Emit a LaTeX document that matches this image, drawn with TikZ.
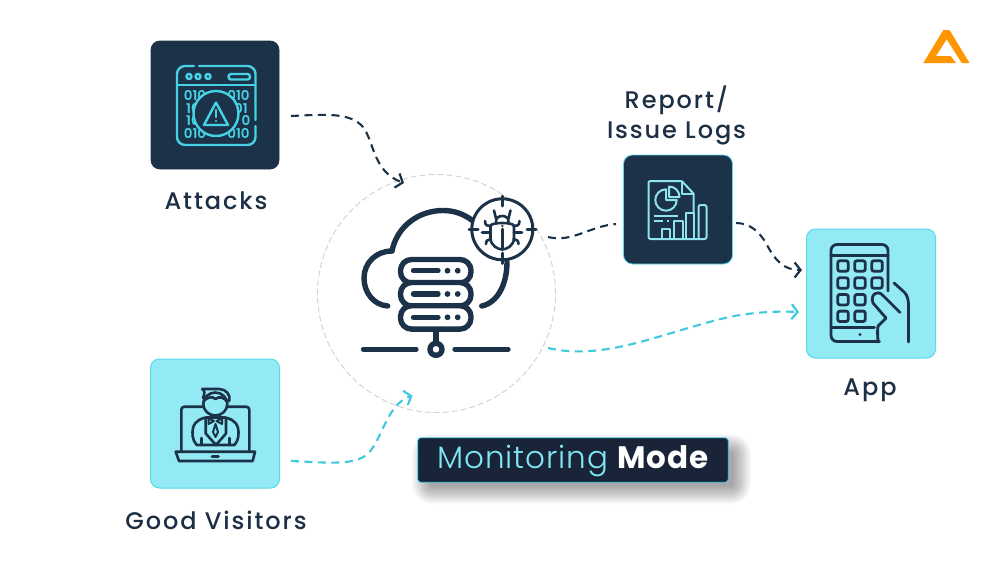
\documentclass[tikz,border=0pt]{standalone}
\usepackage{fontspec}
\usetikzlibrary{arrows.meta}
\setmainfont{Poppins}
\newfontfamily\labelfont[LetterSpace=8]{Poppins Medium}
\newfontfamily\lightfont[LetterSpace=3]{Poppins Light}
\newfontfamily\boldfont[LetterSpace=3]{Poppins Bold}
\newfontfamily\digitfont{Poppins SemiBold}
\definecolor{navy}{HTML}{1C3249}
\definecolor{lightcy}{HTML}{93E9F4}
\definecolor{cardedge}{HTML}{55DBEA}
\definecolor{wirecy}{HTML}{40C8DC}
\definecolor{iconcy}{HTML}{45D2E4}
\definecolor{reportcy}{HTML}{8FE3EE}
\definecolor{labelbg}{HTML}{1A2438}
\definecolor{labeltxt}{HTML}{7FE8F4}
\definecolor{logoc}{HTML}{FF9500}
\definecolor{txtc}{HTML}{1C2F45}
\tikzset{
  x=1pt,y=-1pt,
  cardbox/.style={rounded corners=9pt,inner sep=0pt,outer sep=0pt},
  darkcard/.style={cardbox,fill=navy,draw=navy,line width=.8pt},
  lightcard/.style={cardbox,fill=lightcy,draw=cardedge,line width=1pt},
  captxt/.style={font=\labelfont\fontsize{24}{30}\selectfont,text=txtc,inner sep=0pt,align=center},
  wire/.style={line width=2.1pt,dash pattern=on 8pt off 5.5pt,
    -{Straight Barb[length=6pt,width=15pt,line width=2.2pt]}},
  darkwire/.style={wire,draw=navy},
  cywire/.style={wire,draw=wirecy},
  iconA/.style={draw=iconcy,line width=2.4pt,line cap=round,line join=round},
  iconB/.style={draw=navy,line width=5.4pt,line cap=round,line join=round},
  iconC/.style={draw=navy,line width=2.8pt,line cap=round,line join=round},
  iconD/.style={draw=reportcy,line width=2pt,line join=round},
  iconE/.style={draw=navy,line width=2.6pt,line cap=round,line join=round},
  digits/.style={font=\digitfont\fontsize{13.5}{14}\selectfont,text=iconcy,inner sep=0pt,text height=9.5pt,text depth=0pt},
}
\begin{document}
\begin{tikzpicture}
\useasboundingbox (0,0) rectangle (1000,570);
\fill[white] (0,0) rectangle (1000,570);

% hub ring
\node[circle,draw=black!18,line width=.9pt,dash pattern=on 6pt off 3pt,minimum size=238pt,inner sep=0pt] (hub) at (436.5,293.5) {};

% cards
\node[darkcard,minimum width=128pt,minimum height=128pt] (attacks) at (215,105) {};
\node[lightcard,minimum width=129pt,minimum height=129pt] (good) at (215,423.5) {};
\node[darkcard,draw=cardedge,minimum width=109pt,minimum height=109pt] (report) at (678,209.5) {};
\node[lightcard,minimum width=129pt,minimum height=129pt] (app) at (871,293.5) {};

% captions
\node[captxt] (capa) at (216,201) {Attacks};
\node[captxt] (capg) at (216,520) {Good Visitors};
\node[captxt] (capr) at (676.5,115) {Report/\\Issue Logs};
\node[captxt] (capp) at (870,390) {App};

% connector ends
\coordinate (a1) at (291,116);
\coordinate (a2) at (404,183);
\coordinate (g1) at (291,461);
\coordinate (g2) at (412.5,395.5);
\coordinate (h1) at (548,237);
\coordinate (h2) at (548,348);
\coordinate (h3) at (616,224);
\coordinate (r1) at (736,223);
\coordinate (r2) at (802,270);
\coordinate (p2) at (799,312);

\draw[darkwire] (a1) .. controls (325,114.5) and (350,112) .. (363,127) .. controls (374,141) and (373,172) .. (a2);
\draw[cywire] (g1) .. controls (320,462) and (350,466) .. (365,456) .. controls (382,444) and (385,405) .. (g2);
\draw[cywire] (h2) .. controls (600,360) and (650,338) .. (713,321) .. controls (745,312) and (775,311) .. (p2);
\draw[darkwire,-] (h1) .. controls (572,243) and (590,226) .. (h3);
\draw[darkwire] (r1) .. controls (750,223) and (760,232) .. (767,245) .. controls (776,262) and (785,270) .. (r2);

% ---- Attacks icon
\draw[iconA,rounded corners=8pt] (199,66) -- (255.5,66) -- (255.5,120);
\draw[iconA,rounded corners=8pt] (255.5,126) -- (255.5,145) -- (177,145) -- (177,66) -- (194,66);
\draw[iconA] (177,85) -- (255.5,85);
\foreach \cx in {189,198,208}{\draw[iconA] (\cx,76.5) circle[radius=2.6];}
\draw[iconA,rounded corners=2.5pt] (228.5,74) rectangle (250,79.5);
\node[digits] (da1) at (195,96) {010};
\node[digits] (da2) at (238.5,96) {010};
\node[digits] (db1) at (193,108.5) {10};
\node[digits] (db2) at (241,108.5) {01};
\node[digits] (dc1) at (193,121) {10};
\node[digits] (dc2) at (246,121) {0};
\node[digits] (dd1) at (195,133.5) {010};
\node[digits] (dd2) at (238.5,133.5) {010};
\draw[iconA,fill=navy] (216,113.5) circle[radius=22.5];
\draw[iconA] (216,102.5) -- (228,125) -- (204,125) -- cycle;
\draw[iconA] (216,110) -- (216,117);
\fill[iconcy] (216,121) circle[radius=1.2];

% ---- Server / cloud icon
\draw[iconB] (387.7,306) .. controls (374,305) and (364,293) .. (364,278) .. controls (364,263) and (376,251) .. (392,251);
\draw[iconB] (392,251) .. controls (397,226) and (419,210.5) .. (443,210.5) .. controls (454,210.5) and (464,214) .. (473,221);
\draw[iconB] (507,262) .. controls (507,285) and (497,303) .. (481.7,306);
\foreach \y in {259.5,282.5,305.7}{
  \draw[iconB,fill=white,rounded corners=11pt] (400.5,\y) rectangle (471,\y+23.4);
}
\foreach \y in {270.7,294,317.3}{
  \draw[iconB] (413.5,\y) -- (438,\y);
  \fill[navy] (447.5,\y) circle[radius=2.9];
  \fill[navy] (457.7,\y) circle[radius=2.9];
}
\draw[iconB,line cap=butt] (436,329) -- (436,342);
\draw[iconB] (436,349.3) circle[radius=6];
\draw[iconB] (363.5,349.3) -- (416,349.3);
\draw[iconB] (455,349.3) -- (508,349.3);

% ---- Bug target
\draw[navy,line width=3pt,fill=white] (502.3,229.3) circle[radius=30.5];
\draw[iconE,line width=3pt] (502.3,196) -- (502.3,206);
\draw[iconE,line width=3pt] (502.3,253) -- (502.3,263.5);
\draw[iconE,line width=3pt] (469,229.3) -- (478,229.3);
\draw[iconE,line width=3pt] (527,229.3) -- (536,229.3);
\draw[iconE] (490.5,226) .. controls (490.5,222) and (514,222) .. (514,226) -- (514,238) .. controls (514,246) and (506,249.5) .. (502.3,249.5) .. controls (498.5,249.5) and (490.5,246) .. (490.5,238) -- cycle;
\draw[iconE] (496,218.5) -- (494,210.5);
\draw[iconE] (508.5,218.5) -- (510.5,210.5);
\draw[iconE] (496,222) .. controls (495,214) and (509.5,214) .. (508.5,222);
\draw[iconE] (502.3,229) -- (502.3,249);
\fill[navy] (502.3,226) circle[radius=1.2];
\draw[iconE] (482,232.5) -- (490,232.5);
\draw[iconE] (514,232.5) -- (522,232.5);
\draw[iconE] (485,221) .. controls (485,226) and (488,226) .. (491,226);
\draw[iconE] (519.5,221) .. controls (519.5,226) and (516.5,226) .. (513.5,226);
\draw[iconE] (486,244) .. controls (486,240) and (488,240) .. (491,239);
\draw[iconE] (518.5,244) .. controls (518.5,240) and (516.5,240) .. (513.5,239);

% ---- Report icon
\draw[iconD,rounded corners=2pt] (681.7,181) -- (648.5,181) -- (648.5,239) -- (706.5,239) -- (706.5,205) -- (698.5,205) -- (698.5,239);
\draw[iconD] (681.7,181) -- (693.5,193.5) -- (693.5,213);
\draw[iconD] (681.7,181) -- (681.7,193.5) -- (693.5,193.5);
\draw[iconD] (661.5,229) rectangle (670,239);
\draw[iconD] (674,221) rectangle (682.7,239);
\draw[iconD] (686,213) rectangle (694,239);
\draw[iconD] (666,189.3) arc[start angle=90,end angle=360,radius=10.7pt] -- (666,200) -- cycle;
\draw[iconD] (669,186.5) arc[start angle=90,end angle=0,radius=10.5pt] -- (669,197) -- cycle;
\draw[iconD] (653.5,215.5) -- (678,215.5);
\draw[iconD] (653.5,221) -- (663,221);
\draw[iconD] (667,221) -- (669,221);

% ---- Phone icon
\draw[iconC,rounded corners=6pt] (879.5,341.5) -- (831,341.5) -- (831,244.5) -- (888,244.5) -- (888,291);
\draw[iconC] (831,255.5) -- (888,255.5);
\draw[iconC] (831,327.7) -- (874.5,327.7);
\foreach \cx/\cy in {843/266,860/266,877/266,843/283,860/283,877/283,843/299.7,860/299.7,843/316.3,860/316.3}{
  \draw[iconC,rounded corners=2pt] (\cx-5.2,\cy-5.2) rectangle (\cx+5.2,\cy+5.2);
}
\fill[navy] (860,334.5) circle[radius=1.6];
\draw[iconC,fill=lightcy] (900,312.5) -- (883,295.5) .. controls (877,289) and (870,295) .. (873,303) -- (886,318) -- (878,326) .. controls (877,332) and (878,338) .. (878,342);
\draw[iconC] (894,283) -- (903,291) .. controls (909,296) and (908.5,303) .. (908.5,308) -- (908.5,342);

% ---- Laptop person icon
\draw[iconE,line cap=butt,rounded corners=3pt] (181.3,451.7) -- (181.3,406.7) -- (249.3,406.7) -- (249.3,451.7);
\draw[iconE,fill=lightcy] (175.7,451.7) -- (255,451.7) -- (252.7,461) -- (179,461) -- cycle;
\draw[iconE] (212,456.3) -- (218.5,456.3);
\draw[iconE,fill=lightcy] (196.7,445) .. controls (192,440) and (192,433) .. (193,428) .. controls (195,420) and (203,418) .. (206,417.5) -- (225,417.5) .. controls (228,418) and (236,420) .. (238,428) .. controls (239,433) and (239,440) .. (234.5,445) -- cycle;
\draw[iconE] (205.7,418) -- (205.7,433.5) -- (216,445) -- (226,433.5) -- (226,418);
\draw[iconE] (201.7,438) -- (201.7,445);
\draw[iconE] (229.5,438) -- (229.5,445);
\draw[iconC,line width=2pt] (208.5,418.5) -- (214,421) -- (208.5,424) -- cycle;
\draw[iconC,line width=2pt] (222,418.5) -- (216.5,421) -- (222,424) -- cycle;
\draw[iconC,line width=2pt] (215.5,424) -- (213,432) -- (215.5,437) -- (218,432) -- cycle;
\draw[iconE,fill=lightcy] (215.3,404) ellipse[x radius=12,y radius=11.5];
\draw[iconE] (203.5,401) .. controls (208,397) and (212,396) .. (215.5,399) .. controls (219,396) and (224,397) .. (227.5,402);
\draw[iconE] (202.3,389) -- (219,389) .. controls (226,389) and (231,395) .. (229.3,401);
\draw[iconE] (202.3,389) .. controls (205,391) and (205,393) .. (203,398);

% ---- Monitoring Mode label
\foreach \g in {18,17,...,0}{
  \fill[black,opacity=.021,rounded corners=\g pt+2pt] (430-\g,452-\g) rectangle (733+\g,486+\g);
}
\node[cardbox,rounded corners=3pt,fill=labelbg,draw=iconcy,line width=.9pt,minimum width=310.5pt,minimum height=44.5pt] (mode) at (573,460) {};
\node[inner sep=0pt,font=\fontsize{31}{36}\selectfont] (modetxt) at (573,460.5) {\lightfont\textcolor{labeltxt}{Monitoring} \boldfont\textcolor{white}{Mode}};

% ---- Logo
\fill[logoc] (943.3,30) -- (949.5,30) -- (969.5,63) -- (961.7,63) -- (946.7,39.3) -- (936,56) -- (950.7,56) -- (956,63) -- (923.3,63) -- cycle;
\end{tikzpicture}
\end{document}
